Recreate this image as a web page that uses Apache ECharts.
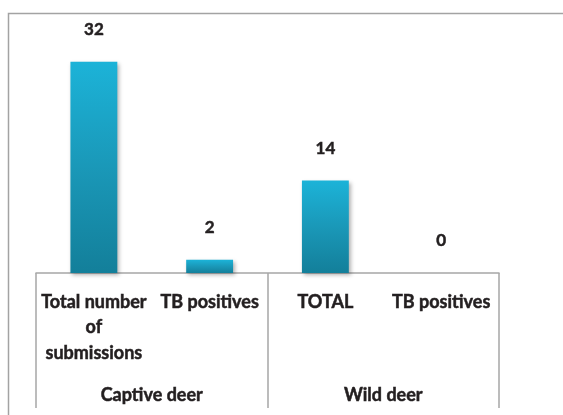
<!DOCTYPE html>
<html><head><meta charset="utf-8">
<script src="https://cdn.jsdelivr.net/npm/echarts@6/dist/echarts.min.js"></script>
<style>html,body{margin:0;padding:0;background:#fff}#c{width:563px;height:415px}</style>
</head><body><div id="c"></div>
<script>
var categories = ["Total number\nof\nsubmissions", "TB positives", "TOTAL", "TB positives"];
var groups = ["Captive deer", "Wild deer"];
var values = [32, 2, 14, 0];

var chart = echarts.init(document.getElementById('c'), null, {renderer: 'canvas'});
var font = 'Lato, "Liberation Sans", Arial, sans-serif';
var txt = {fontFamily: font, fontWeight: 'bold', color: '#231f20', textBorderColor: '#231f20', textBorderWidth: 0.5};
chart.setOption({
  animation: false,
  backgroundColor: '#fff',
  graphic: [{
    type: 'rect', shape: {x: 8.5, y: 13.5, width: 700, height: 600},
    style: {fill: 'none', stroke: '#a3a3a3', lineWidth: 1.5}, silent: true, z: -1
  }],
  grid: {left: 36, right: 64, top: 42, bottom: 142},
  xAxis: [{
    type: 'category', data: categories, position: 'bottom',
    axisLine: {show: true, lineStyle: {color: '#a6a6a6', width: 1.5}},
    axisTick: {show: false},
    axisLabel: Object.assign({interval: 0, margin: 16, fontSize: 18, lineHeight: 25.5}, txt)
  }, {
    type: 'category', data: groups, position: 'bottom',
    axisLine: {show: false},
    axisTick: {show: true, length: 135, lineStyle: {color: '#a6a6a6', width: 1.5}},
    axisLabel: Object.assign({interval: 0, margin: 113, fontSize: 18}, txt)
  }],
  yAxis: {type: 'value', min: 0, max: 35, show: false, splitLine: {show: false}},
  series: [{
    type: 'bar', data: values, barWidth: '40.5%', xAxisIndex: 0,
    itemStyle: {
      color: new echarts.graphic.LinearGradient(0, 0, 0, 1, [
        {offset: 0, color: '#1cb3d8'}, {offset: 0.5, color: '#1a98b8'}, {offset: 1, color: '#137f9a'}
      ]),
      shadowBlur: 4, shadowColor: 'rgba(0,0,0,0.3)', shadowOffsetX: 2, shadowOffsetY: 2
    },
    label: Object.assign({show: true, position: 'top', distance: 24, fontSize: 17}, txt)
  }]
});
</script></body></html>
